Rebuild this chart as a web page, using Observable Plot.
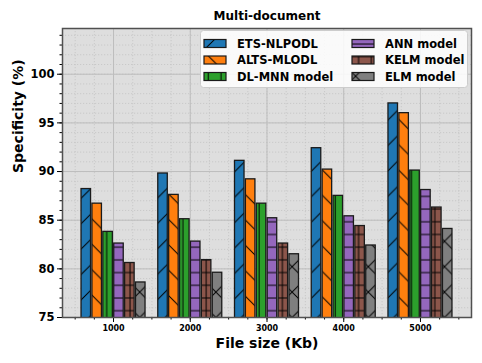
<!DOCTYPE html>
<html><head><meta charset="utf-8">
<script src="https://cdn.jsdelivr.net/npm/d3@7"></script>
<script src="https://cdn.jsdelivr.net/npm/@observablehq/plot@0.6"></script>
<style>body{margin:0;background:#fff}</style>
</head><body><div id="chart"></div>
<script>
// ---- data ----
const sizes = [1000, 2000, 3000, 4000, 5000];
const models = ["ETS-NLPODL", "ALTS-MLODL", "DL-MNN model", "ANN model", "KELM model", "ELM model"];
const colors = ["#1f77b4", "#ff7f0e", "#2ca02c", "#9467bd", "#8c564b", "#7f7f7f"];
const etsNlpodl = [88.2, 89.8, 91.1, 92.4, 97.0];
const altsMlodl = [86.7, 87.6, 89.2, 90.2, 96.0];
const dlMnn     = [83.8, 85.1, 86.7, 87.5, 90.1];
const ann       = [82.6, 82.8, 85.2, 85.4, 88.1];
const kelm      = [80.6, 80.9, 82.6, 84.4, 86.3];
const elm       = [78.6, 79.6, 81.5, 82.4, 84.1];
const series = [etsNlpodl, altsMlodl, dlMnn, ann, kelm, elm];
const yTicks = [75, 80, 85, 90, 95, 100];
const title = "Multi-document";
const xLabel = "File size (Kb)";
const yLabel = "Specificity (%)";

const rows = sizes.flatMap((s, gi) => models.map((m, mi) => ({size: s, model: m, mi, value: series[mi][gi]})));

const stride = 142, barW = 124;
const bx1 = d => d.size + (d.mi - 2.5) * stride - barW / 2;
const bx2 = d => d.size + (d.mi - 2.5) * stride + barW / 2;

const minorX = d3.range(500, 5501, 250);
const minorY = d3.range(76, 105, 1);
const font = "DejaVu Sans, sans-serif";

const svg = Plot.plot({
  width: 482, height: 363,
  marginLeft: 62, marginRight: 11, marginTop: 28, marginBottom: 46,
  style: {fontFamily: font, background: "#fff", color: "#000"},
  x: {type: "linear", domain: [335, 5665]},
  y: {domain: [75, 104.7]},
  color: {type: "identity"},
  marks: [
    Plot.frame({fill: "#dedede", stroke: null}),
    Plot.gridX(minorX, {stroke: "#c4c4c4", strokeOpacity: 1, strokeDasharray: "1.2,1.8", strokeWidth: 0.8}),
    Plot.gridY(minorY, {stroke: "#c4c4c4", strokeOpacity: 1, strokeDasharray: "1.2,1.8", strokeWidth: 0.8}),
    Plot.gridX(sizes, {stroke: "#bdbdbd", strokeOpacity: 1, strokeWidth: 1}),
    Plot.gridY(yTicks, {stroke: "#bdbdbd", strokeOpacity: 1, strokeWidth: 1}),
    Plot.rectY(rows, {x1: bx1, x2: bx2, y: "value", fill: d => colors[d.mi], clip: true}),
    Plot.rectY(rows, {x1: bx1, x2: bx2, y: "value", fill: d => `url(#hatch${d.mi})`, clip: true}),
    Plot.rectY(rows, {x1: bx1, x2: bx2, y: "value", fill: "none", stroke: "#1a1a1a", strokeWidth: 1.3, clip: true}),
    Plot.axisX(minorX, {tickSize: 2.5, tickFormat: () => "", label: null}),
    Plot.axisX(sizes, {tickSize: 5, tickPadding: 3, fontSize: 8, fontWeight: "bold", tickFormat: d => String(d), label: null}),
    Plot.axisY(minorY, {tickSize: 2.5, tickFormat: () => "", label: null}),
    Plot.axisY(yTicks, {tickSize: 5, tickPadding: 3, fontSize: 11.5, fontWeight: "bold", label: null}),
    Plot.frame({stroke: "#505050", strokeWidth: 1.5}),
    Plot.text([yLabel], {text: d => d, frameAnchor: "left", dx: -44, rotate: -90, lineAnchor: "middle", fontSize: 14, fontWeight: "bold"}),
    Plot.text([xLabel], {text: d => d, frameAnchor: "bottom", dy: 26, lineAnchor: "middle", fontSize: 14, fontWeight: "bold"}),
    Plot.text([title], {text: d => d, frameAnchor: "top", dy: -12, lineAnchor: "middle", fontSize: 12, fontWeight: "bold"})
  ]
});

// ---- hatch patterns ----
const defs = d3.select(svg).insert("defs", ":first-child");
function addPattern(id, w, h, d) {
  const p = defs.append("pattern").attr("id", id)
    .attr("patternUnits", "userSpaceOnUse").attr("width", w).attr("height", h);
  p.append("path").attr("d", d).attr("stroke", "#000").attr("stroke-width", 1).attr("fill", "none");
}
const D = 25.4, S = 12.7;
addPattern("hatch0", D, D, `M0,${D}L${D},0M-3,3L3,-3M${D-3},${D+3}L${D+3},${D-3}`);
addPattern("hatch1", D, D, `M0,0L${D},${D}M-3,${D-3}L3,${D+3}M${D-3},-3L${D+3},3`);
addPattern("hatch2", S, S, `M5.1,0V${S}`);
addPattern("hatch3", S, S, `M0,5.9H${S}`);
addPattern("hatch4", S, S, `M0,5.9H${S}M3,0V${S}`);
addPattern("hatch5", D, D, `M0,${D}L${D},0M-3,3L3,-3M${D-3},${D+3}L${D+3},${D-3}M0,0L${D},${D}M-3,${D-3}L3,${D+3}M${D-3},-3L${D+3},3`);

// ---- legend ----
const lg = d3.select(svg).append("g").attr("font-family", font).attr("font-weight", "bold")
  .attr("font-size", 11.5).attr("text-anchor", "start");
lg.append("rect").attr("x", 200.5).attr("y", 30.5).attr("width", 267).attr("height", 57).attr("rx", 3)
  .attr("fill", "#fff").attr("fill-opacity", 0.85).attr("stroke", "#cccccc");
models.forEach((m, i) => {
  const col = Math.floor(i / 3), row = i % 3;
  const sx = [204, 352][col], cy = 43.5 + row * 16.5;
  lg.append("rect").attr("x", sx).attr("y", cy - 4).attr("width", 22).attr("height", 8).attr("fill", colors[i]);
  lg.append("rect").attr("x", sx).attr("y", cy - 4).attr("width", 22).attr("height", 8).attr("fill", `url(#hatch${i})`);
  lg.append("rect").attr("x", sx).attr("y", cy - 4).attr("width", 22).attr("height", 8).attr("fill", "none")
    .attr("stroke", "#1a1a1a").attr("stroke-width", 1.2);
  lg.append("text").attr("x", sx + 33).attr("y", cy).attr("dy", "0.36em").text(m);
});

document.getElementById("chart").appendChild(svg);
</script>
</body></html>
